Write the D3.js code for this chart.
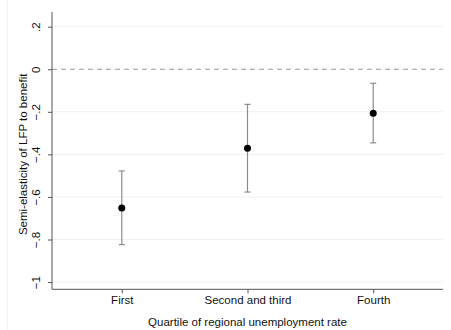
<!DOCTYPE html>
<html>
<head>
<meta charset="utf-8">
<script src="https://cdn.jsdelivr.net/npm/d3@7"></script>
<style>
  html, body { margin: 0; padding: 0; background: #fff; }
  svg { display: block; font-family: "Liberation Sans", Arial, sans-serif; }
</style>
</head>
<body>
<div id="chart"></div>
<script>
const categories = ["First", "Second and third", "Fourth"];
const estimates = [-0.652, -0.371, -0.207];
const ciLow = [-0.824, -0.577, -0.346];
const ciHigh = [-0.478, -0.165, -0.066];
const yTicks = [0.2, 0, -0.2, -0.4, -0.6, -0.8, -1];

const width = 451, height = 330;
const margin = { top: 12, right: 8, bottom: 40.7, left: 52 };
const innerWidth = width - margin.left - margin.right;
const innerHeight = height - margin.top - margin.bottom;
const fontSize = "11.5px";

const data = categories.map((c, i) => ({
  cat: c, pos: i + 1, est: estimates[i], lo: ciLow[i], hi: ciHigh[i]
}));

const svg = d3.select("#chart").append("svg")
  .attr("width", width)
  .attr("height", height);

// faint outer frame line
svg.append("line")
  .attr("x1", 7.5).attr("x2", 7.5)
  .attr("y1", 0).attr("y2", height)
  .attr("stroke", "#f2f2f2");

const g = svg.append("g")
  .attr("transform", `translate(${margin.left},${margin.top})`);

const x = d3.scaleLinear()
  .domain([0.445, 3.555])
  .range([0, innerWidth]);

const y = d3.scaleLinear()
  .domain([-1.034, 0.269])
  .range([innerHeight, 0]);

// gridlines
g.selectAll(".grid")
  .data(yTicks.filter(t => t !== 0))
  .join("line")
  .attr("x1", 0).attr("x2", innerWidth)
  .attr("y1", d => y(d)).attr("y2", d => y(d))
  .attr("stroke", "#eaf2f3")
  .attr("stroke-width", 1);

// zero reference line
g.append("line")
  .attr("x1", 0).attr("x2", innerWidth)
  .attr("y1", y(0)).attr("y2", y(0))
  .attr("stroke", "#999")
  .attr("stroke-width", 1)
  .attr("stroke-dasharray", "5,4");

// y axis
const yAxis = g.append("g")
  .call(d3.axisLeft(y).tickValues(yTicks).tickSize(4)
    .tickFormat(d => d === 0 ? "0" : d3.format(".1f")(d).replace("0.", ".").replace(".0", "")));
yAxis.select(".domain").attr("d", `M0,${innerHeight}V0`).attr("stroke", "#555");
yAxis.selectAll(".tick line").attr("stroke", "#555");
yAxis.selectAll(".tick text")
  .attr("transform", "rotate(-90)")
  .attr("x", 0)
  .attr("y", -16)
  .attr("dy", "0.32em")
  .attr("text-anchor", "middle")
  .attr("fill", "#111")
  .style("font-size", fontSize);

// x axis
const xAxis = g.append("g")
  .attr("transform", `translate(0,${innerHeight})`)
  .call(d3.axisBottom(x).tickValues([1, 2, 3]).tickSize(4).tickPadding(3)
    .tickFormat(d => categories[d - 1]));
xAxis.select(".domain").attr("d", `M0,0H${innerWidth}`).attr("stroke", "#555");
xAxis.selectAll(".tick line").attr("stroke", "#555");
xAxis.selectAll(".tick text").attr("fill", "#111").style("font-size", fontSize);

// axis titles
g.append("text")
  .attr("x", x(2))
  .attr("y", innerHeight + 36.5)
  .attr("text-anchor", "middle")
  .attr("fill", "#111")
  .style("font-size", fontSize)
  .text("Quartile of regional unemployment rate");

g.append("text")
  .attr("transform", "rotate(-90)")
  .attr("x", -y(-0.4))
  .attr("y", -28.5)
  .attr("dy", "0.32em")
  .attr("text-anchor", "middle")
  .attr("fill", "#111")
  .style("font-size", fontSize)
  .text("Semi-elasticity of LFP to benefit");

// confidence intervals
const ci = g.selectAll(".ci").data(data).join("g");
ci.append("line")
  .attr("x1", d => x(d.pos)).attr("x2", d => x(d.pos))
  .attr("y1", d => y(d.lo)).attr("y2", d => y(d.hi))
  .attr("stroke", "#8c8c8c").attr("stroke-width", 1.2);
ci.selectAll(".cap")
  .data(d => [[d.pos, d.lo], [d.pos, d.hi]])
  .join("line")
  .attr("x1", d => x(d[0]) - 3).attr("x2", d => x(d[0]) + 3)
  .attr("y1", d => y(d[1])).attr("y2", d => y(d[1]))
  .attr("stroke", "#8c8c8c").attr("stroke-width", 1.2);

// point estimates
g.selectAll(".dot")
  .data(data)
  .join("circle")
  .attr("cx", d => x(d.pos))
  .attr("cy", d => y(d.est))
  .attr("r", 3.5)
  .attr("fill", "#000");
</script>
</body>
</html>
